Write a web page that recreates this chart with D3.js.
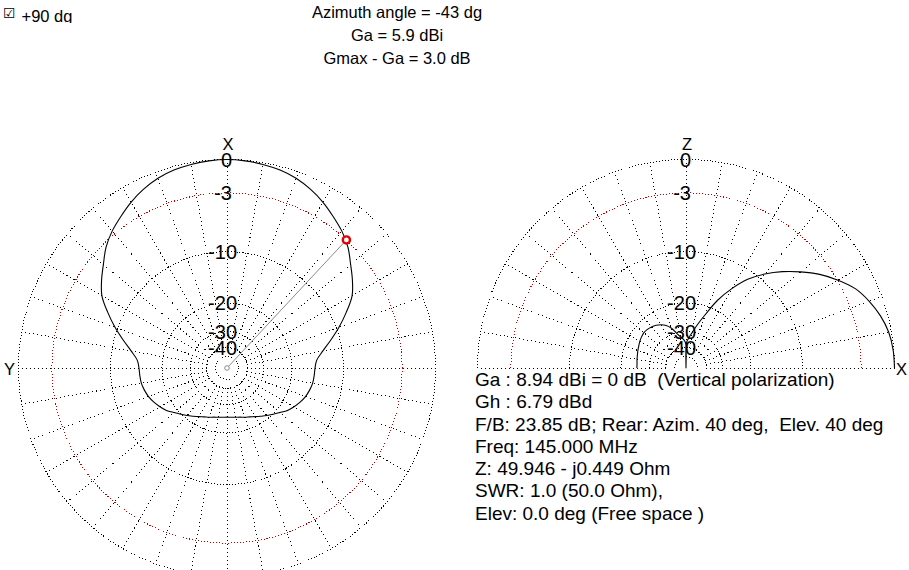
<!DOCTYPE html>
<html><head><meta charset="utf-8">
<script src="https://cdn.jsdelivr.net/npm/d3@7"></script>
<style>
html,body{margin:0;padding:0;background:#fff;}
svg{display:block;}
text{font-family:"Liberation Sans",Arial,sans-serif;fill:#000;white-space:pre;}
</style></head><body>
<svg id="chart" width="909" height="570"></svg>
<script>
// ---------------- data ----------------
// Azimuth pattern (relative dB), azimuth 0..355 step 5 (positive = toward Y, left)
const azAngles = d3.range(0, 360, 5);
const azGain = [0,-0.05,-0.15,-0.3,-0.55,-0.95,-1.45,-2.05,-2.65,-3.4,-4.4,-5.3,-6.3,-7.9,-9.6,-11.4,-13.1,-14.4,
  -14.8,-14.9,-15.0,-15.3,-15.7,-16.3,-17.0,-17.8,-18.9,-19.9,-20.8,-21.7,-22.5,-23.2,-23.7,-24.2,-24.5,-24.7,
  -24.8,-24.7,-24.5,-24.2,-23.7,-23.2,-22.5,-21.7,-20.8,-19.9,-18.9,-17.8,-17.0,-16.3,-15.7,-15.3,-15.0,-14.9,
  -14.8,-14.4,-13.1,-11.4,-9.6,-7.9,-6.3,-5.3,-4.4,-3.4,-2.65,-2.05,-1.45,-0.95,-0.55,-0.3,-0.15,-0.05];
// Elevation pattern (relative dB), elevation 0 = X, 90 = Z, 180 = -X ; null = below scale
const elevAngles = [0,5,10,15,20,25,30,35,40,45,50,55,60,65,70,75,80,85,89,90,91,
  95,100,105,110,115,120,125,130,135,140,145,150,155,160,165,170,175,180];
const elevGain = [0,-0.05,-0.22,-0.6,-1.15,-1.85,-2.95,-4.2,-5.7,-7.3,-9.1,-11.2,-14.1,-17.6,-22.2,-26.2,-30.0,-33.3,-36.4,null,-36.4,
  -34.0,-32.3,-30.2,-27.4,-25.6,-24.5,-23.8,-23.3,-23.0,-22.9,-23.1,-23.4,-23.8,-24.1,-24.4,-24.6,-24.8,-24.8];
const ringDb = [0,-3,-10,-20,-30,-40,-50];
const labelDb = [0,-3,-10,-20,-30,-40];
const spokeAz = d3.range(0, 360, 10);
const spokeElev = d3.range(0, 190, 10);
const markerAz = -43, markerDb = -3.0;
const titleLines = ["Azimuth angle = -43 dg","Ga = 5.9 dBi","Gmax - Ga = 3.0 dB"];
const infoLines = ["Ga : 8.94 dBi = 0 dB  (Vertical polarization)","Gh : 6.79 dBd",
  "F/B: 23.85 dB; Rear: Azim. 40 deg,  Elev. 40 deg","Freq: 145.000 MHz","Z: 49.946 - j0.449 Ohm",
  "SWR: 1.0 (50.0 Ohm),","Elev: 0.0 deg (Free space )"];
const checkMark = "\u2611", checkLabel = "+90 dg";

// ---------------- layout ----------------
const svg = d3.select("#chart");
const R = 208.5, CY = 368, CXL = 227, CXR = 686;
// ARRL log scale: radius = R * 0.89^(-dB/2)  ==  power-ratio ^ 0.2530
const rScale = d3.scalePow().exponent(-5*Math.log(0.89)/Math.log(10)).domain([0,1]).range([0,R]);
const rad = db => db == null ? 0 : rScale(Math.pow(10, db/10));
const toRad = Math.PI/180;
const aAz = az => -az*toRad;          // lineRadial angle
const aEl = el => (90-el)*toRad;
const RING_DOT = "1 2", SPOKE_DOT = "1 3";

function grid(g, half, spokes, angFn){
  spokes.forEach(s=>{
    const a = angFn(s), r0 = rad(-40);
    g.append("line")
      .attr("x1", r0*Math.sin(a)).attr("y1", -r0*Math.cos(a))
      .attr("x2", R*Math.sin(a)).attr("y2", -R*Math.cos(a))
      .attr("stroke","#000").attr("stroke-dasharray",SPOKE_DOT).attr("stroke-width",1)
      .attr("shape-rendering","crispEdges");
  });
  ringDb.forEach(db=>{
    const rr = rad(db);
    const col = db === -3 ? "#c00000" : "#000";
    let el;
    if(!half){
      el = g.append("circle").attr("r",rr);
    } else {
      const p = d3.path(); p.arc(0,0,rr,Math.PI,2*Math.PI);
      el = g.append("path").attr("d",p.toString());
    }
    el.attr("fill","none").attr("stroke",col).attr("stroke-dasharray",RING_DOT)
      .attr("stroke-width",1).attr("shape-rendering","crispEdges");
  });
}
function labels(g){
  labelDb.forEach(db=>{
    const t = String(db);
    g.append("text").attr("x", t.length<=2 ? 5 : 10).attr("y", -rad(db))
      .attr("text-anchor","end").attr("dominant-baseline","central")
      .style("font-size","20px").text(t);
  });
}

// ----- left: azimuth -----
const gL = svg.append("g").attr("transform",`translate(${CXL},${CY})`);
grid(gL, false, spokeAz, aAz);
labels(gL);
const azData = azAngles.map((a,i)=>({a, db: azGain[i]}));
gL.append("path").datum(azData)
  .attr("d", d3.lineRadial().angle(d=>aAz(d.a)).radius(d=>rad(d.db)).curve(d3.curveCatmullRomClosed.alpha(0.5)))
  .attr("fill","none").attr("stroke","#000").attr("stroke-width",1.1);
// pointer
const ma = aAz(markerAz), mr = rad(markerDb);
gL.append("line").attr("x1",0).attr("y1",0).attr("x2",mr*Math.sin(ma)).attr("y2",-mr*Math.cos(ma))
  .attr("stroke","#8a8a8a").attr("stroke-width",1);
gL.append("circle").attr("r",2.3).attr("fill","#fff").attr("stroke","#8a8a8a");
gL.append("circle").attr("cx",mr*Math.sin(ma)).attr("cy",-mr*Math.cos(ma)).attr("r",3.6)
  .attr("fill","#fff").attr("stroke","#e00000").attr("stroke-width",2.4);
gL.append("text").attr("x",1).attr("y",-R-9.5).attr("text-anchor","middle").style("font-size","16.5px").text("X");
gL.append("text").attr("x",-CXL+4).attr("y",7).style("font-size","16.5px").text("Y");

// ----- right: elevation -----
const gR = svg.append("g").attr("transform",`translate(${CXR},${CY})`);
grid(gR, true, spokeElev, aEl);
labels(gR);
const elData = elevAngles.map((a,i)=>({a, db: elevGain[i]}));
gR.append("path").datum(elData)
  .attr("d", d3.lineRadial().angle(d=>aEl(d.a)).radius(d=>rad(d.db)).curve(d3.curveCatmullRom.alpha(0.5)))
  .attr("fill","none").attr("stroke","#000").attr("stroke-width",1.1);
gR.append("text").attr("x",1).attr("y",-R-9.5).attr("text-anchor","middle").style("font-size","16.5px").text("Z");
gR.append("text").attr("x",R+1.5).attr("y",7).style("font-size","16.5px").text("X");

// ----- texts -----
svg.append("g").selectAll("text").data(titleLines).join("text")
  .attr("x",397).attr("y",(d,i)=>18+i*23).attr("text-anchor","middle")
  .style("font-size","16.5px").text(d=>d);
svg.append("g").selectAll("text").data(infoLines).join("text")
  .attr("x",475).attr("y",(d,i)=>386+i*22.25).attr("xml:space","preserve")
  .style("font-size","19px").text(d=>d);
svg.append("clipPath").attr("id","topclip").append("rect").attr("x",0).attr("y",0).attr("width",120).attr("height",23);
const gc = svg.append("g").attr("clip-path","url(#topclip)");
gc.append("text").attr("x",3).attr("y",18).style("font-family","DejaVu Sans").style("font-size","14px").text(checkMark);
gc.append("text").attr("x",21.5).attr("y",22).style("font-size","16.5px").text(checkLabel);
</script>
</body></html>
